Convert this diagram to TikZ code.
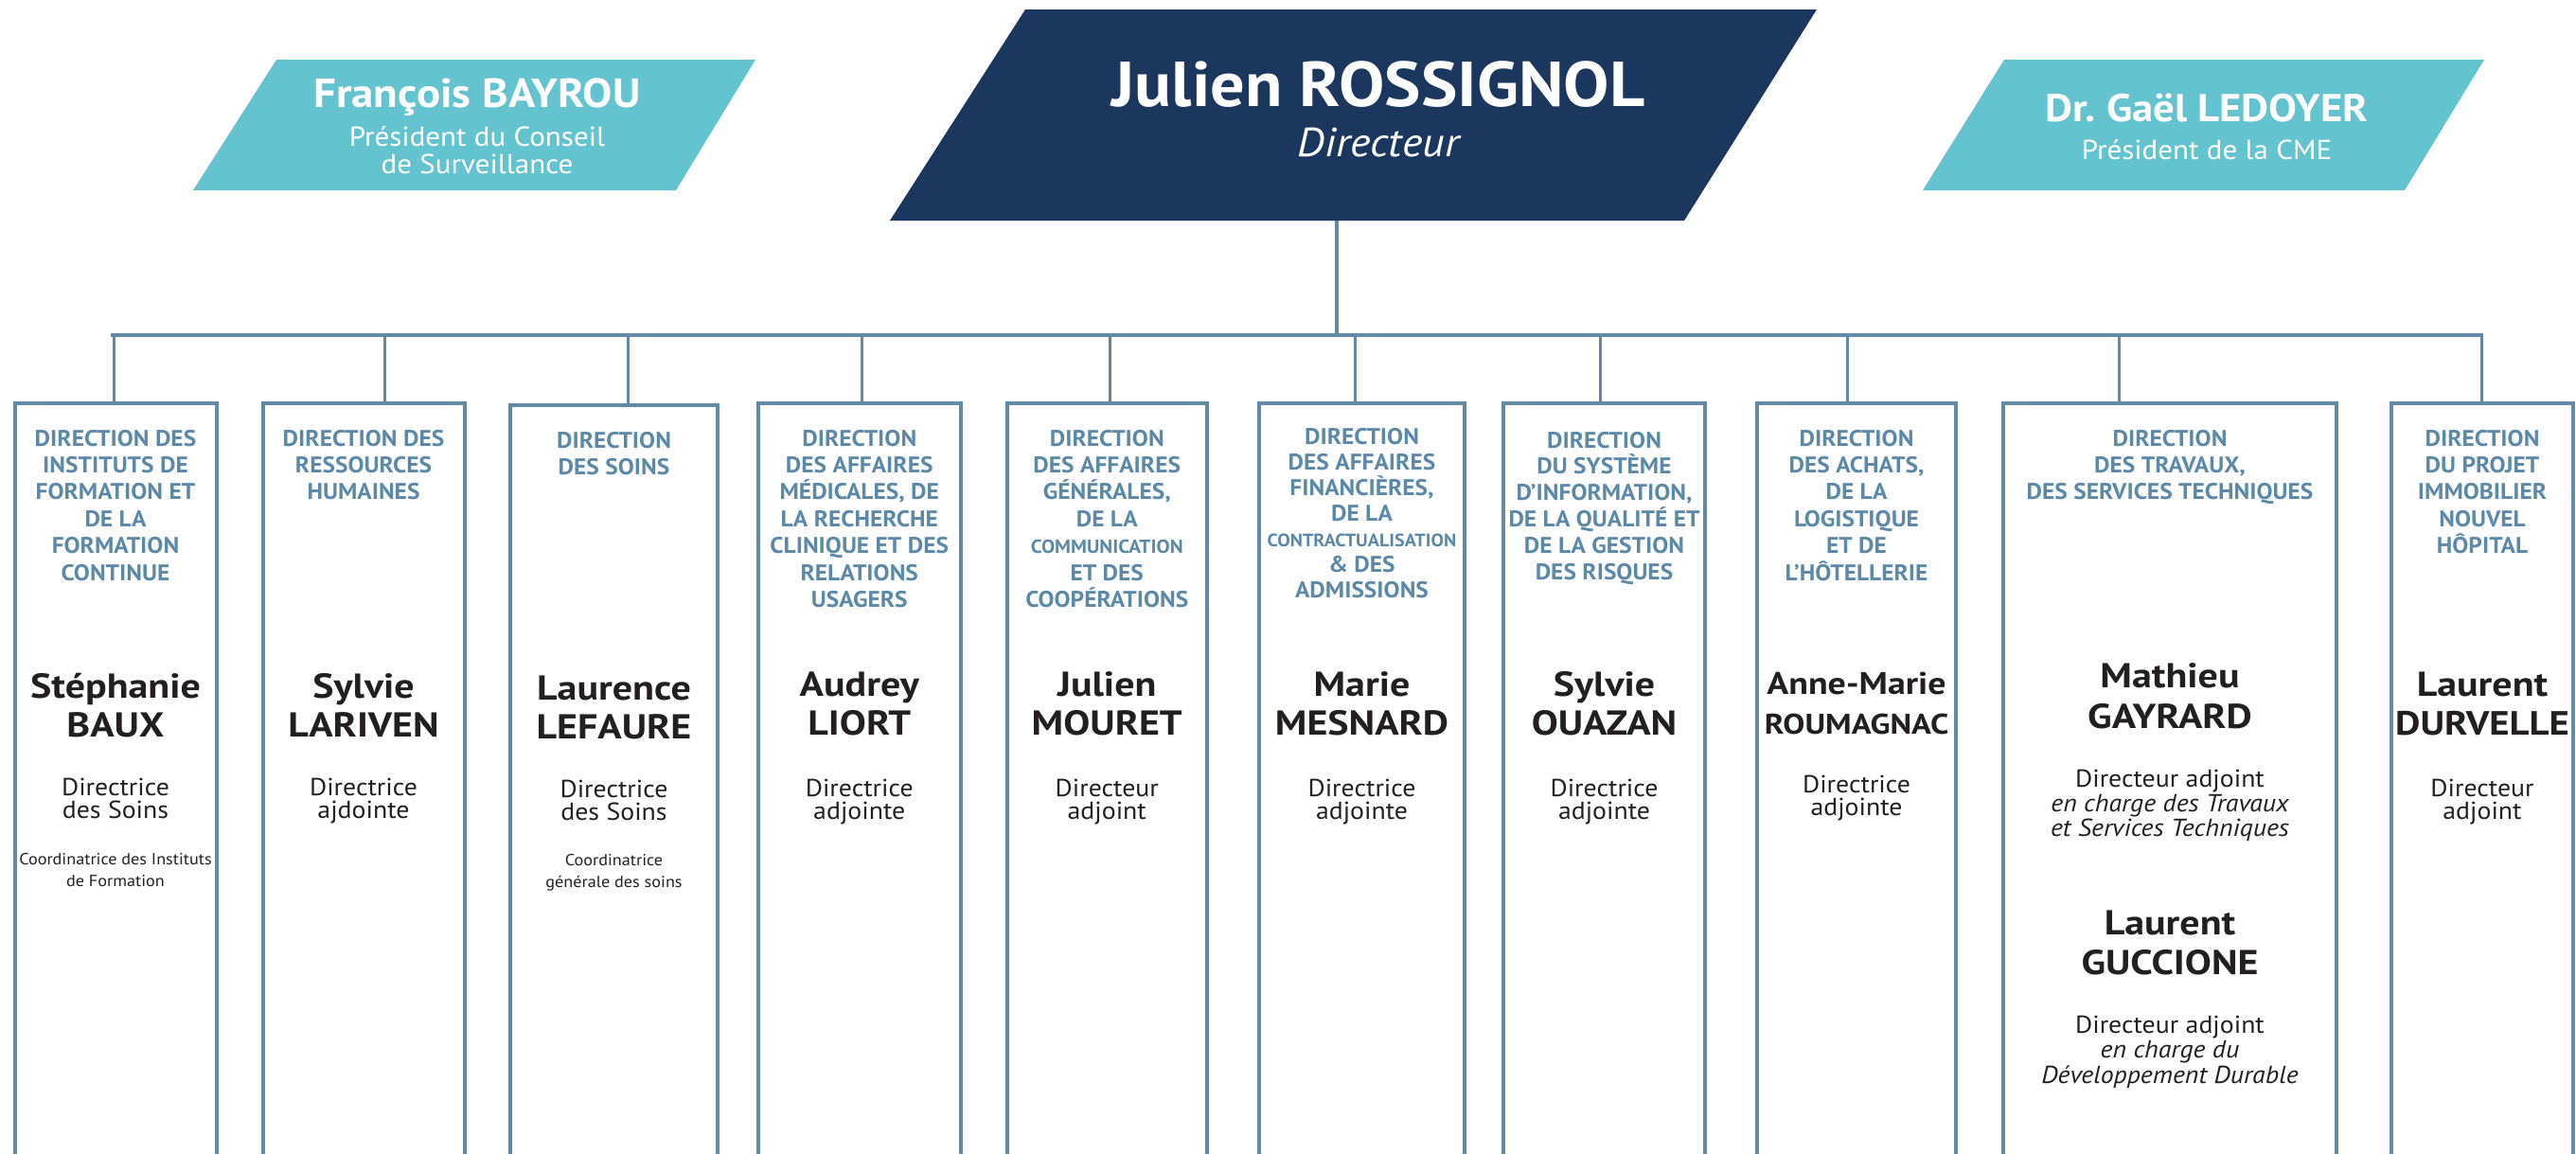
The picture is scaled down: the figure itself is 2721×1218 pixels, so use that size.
\documentclass[tikz,border=0pt]{standalone}
\usepackage{fontspec}
\setmainfont{PT Sans}
\newfontfamily\hdfont{PT Sans}[FakeStretch=1.06]
\newfontfamily\nmfont{PT Sans}[FakeStretch=1.15]
\newfontfamily\rlfont{PT Sans}[FakeStretch=1.07]
\newfontfamily\jrfont{PT Sans}[FakeStretch=1.08]
\newfontfamily\tnfont{PT Sans}[FakeStretch=1.09]
\definecolor{cnavy}{RGB}{27,55,93}
\definecolor{cteal}{RGB}{99,195,207}
\definecolor{csteel}{RGB}{100,137,164}
\definecolor{chead}{RGB}{92,137,168}
\definecolor{ctext}{RGB}{35,31,32}
\newcommand\stk[1]{\vtop{\lineskiplimit=-\maxdimen\lineskip=0pt\halign{\hfil##\hfil\cr#1\crcr}}}
\tikzset{
  orgbox/.style={draw=csteel, line width=4pt, rectangle, inner sep=0pt, outer sep=0pt},
  busline/.style={draw=csteel, line width=4pt},
  dropline/.style={draw=csteel, line width=3pt},
  txt/.style={anchor=base, inner sep=0pt, outer sep=0pt},
  hd/.style={txt, text=chead, font=\hdfont\bfseries\fontsize{24}{28.4}\selectfont},
  nm/.style={txt, text=ctext, font=\nmfont\bfseries\fontsize{36.5}{41.5}\selectfont},
  rl/.style={txt, text=ctext, font=\rlfont\fontsize{26}{24.5}\selectfont},
  nt/.style={txt, text=ctext, font=\rlfont\fontsize{17}{23.8}\selectfont},
}
\begin{document}
\begin{tikzpicture}[x=1pt, y=-1pt]
\useasboundingbox (0,0) rectangle (2721,1218);
\clip (0,0) rectangle (2721,1218);

% top shapes
\fill[cteal] (292,63) -- (798,63) -- (714,201) -- (204,201) -- cycle;
\fill[cnavy] (1083,10) -- (1919,10) -- (1779,233) -- (940,233) -- cycle;
\fill[cteal] (2117,63) -- (2624,63) -- (2540,201) -- (2031,201) -- cycle;
\coordinate (jbot) at (1412,233);

\node[txt, text=white, font=\tnfont\bfseries\fontsize{43}{40}\selectfont] (fbn) at (504,113) {François BAYROU};
\node[txt, text=white, font=\rlfont\fontsize{29}{29}\selectfont] (fbr) at (504,154) {\stk{Président du Conseil\cr de Surveillance}};
\node[txt, text=white, font=\jrfont\bfseries\fontsize{67}{60}\selectfont] (jrn) at (1456,112) {Julien ROSSIGNOL};
\node[txt, text=white, font=\rlfont\itshape\fontsize{43}{40}\selectfont] (jrr) at (1456,165) {Directeur};
\node[txt, text=white, font=\tnfont\bfseries\fontsize{41}{40}\selectfont] (gln) at (2331,128) {Dr.\ Gaël LEDOYER};
\node[txt, text=white, font=\rlfont\fontsize{29}{29}\selectfont] (glr) at (2331,168) {Président de la CME};

% boxes
\node[orgbox, minimum width=213, minimum height=834] (b1) at (122,843) {};
\node[orgbox, minimum width=213, minimum height=834] (b2) at (384,843) {};
\node[orgbox, minimum width=219, minimum height=832] (b3) at (648.5,844) {};
\node[orgbox, minimum width=214.5, minimum height=834] (b4) at (907.75,843) {};
\node[orgbox, minimum width=211.5, minimum height=834] (b5) at (1169.25,843) {};
\node[orgbox, minimum width=217, minimum height=834] (b6) at (1438.5,843) {};
\node[orgbox, minimum width=213, minimum height=834] (b7) at (1694.5,843) {};
\node[orgbox, minimum width=210, minimum height=834] (b8) at (1961,843) {};
\node[orgbox, minimum width=352, minimum height=834] (b9) at (2292,843) {};
\node[orgbox, minimum width=192, minimum height=834] (b10) at (2622,843) {};

% connectors
\coordinate (busL) at (117,354);
\coordinate (busR) at (2623,354);
\draw[busline] (jbot) -- (jbot |- busL);
\draw[busline] (busL) -- (busR);
\foreach \i/\x in {1/120,2/406,3/663,4/910,5/1172,6/1431,7/1690,8/1951,9/2238,10/2621}{
  \coordinate (d\i) at (\x,354);
  \draw[dropline] (d\i) -- (d\i |- b\i.north);
}

% box 1
\node[hd] (h1) at (122,471) {\stk{DIRECTION DES\cr INSTITUTS DE\cr FORMATION ET\cr DE LA\cr FORMATION\cr CONTINUE}};
\node[nm] (n1) at (122,737) {\stk{Stéphanie\cr BAUX}};
\node[rl] (r1) at (122,840) {\stk{Directrice\cr des Soins}};
\node[nt] (t1) at (122,913) {\stk{Coordinatrice des Instituts\cr de Formation}};
% box 2
\node[hd] (h2) at (384,471) {\stk{DIRECTION DES\cr RESSOURCES\cr HUMAINES}};
\node[nm] (n2) at (384,737) {\stk{Sylvie\cr LARIVEN}};
\node[rl] (r2) at (384,840) {\stk{Directrice\cr ajdointe}};
% box 3
\node[hd] (h3) at (648.5,473) {\stk{DIRECTION\cr DES SOINS}};
\node[nm] (n3) at (648.5,739) {\stk{Laurence\cr LEFAURE}};
\node[rl] (r3) at (648.5,842) {\stk{Directrice\cr des Soins}};
\node[nt] (t3) at (648.5,914) {\stk{Coordinatrice\cr générale des soins}};
% box 4
\node[hd] (h4) at (907.75,471) {\stk{DIRECTION\cr DES AFFAIRES\cr MÉDICALES, DE\cr LA RECHERCHE\cr CLINIQUE ET DES\cr RELATIONS\cr USAGERS}};
\node[nm] (n4) at (907.75,735) {\stk{Audrey\cr LIORT}};
\node[rl] (r4) at (907.75,841) {\stk{Directrice\cr adjointe}};
% box 5
\node[hd] (h5) at (1169.25,471) {\stk{DIRECTION\cr DES AFFAIRES\cr GÉNÉRALES,\cr DE LA\cr {\fontsize{20}{28.4}\selectfont COMMUNICATION}\cr ET DES\cr COOPÉRATIONS}};
\node[nm] (n5) at (1169.25,735) {\stk{Julien\cr MOURET}};
\node[rl] (r5) at (1169.25,841) {\stk{Directeur\cr adjoint}};
% box 6
\node[hd, font=\hdfont\bfseries\fontsize{24}{27}\selectfont] (h6) at (1438.5,469) {\stk{DIRECTION\cr DES AFFAIRES\cr FINANCIÈRES,\cr DE LA\cr {\fontsize{19}{27}\selectfont CONTRACTUALISATION}\cr \&~DES\cr ADMISSIONS}};
\node[nm] (n6) at (1438.5,735) {\stk{Marie\cr MESNARD}};
\node[rl] (r6) at (1438.5,841) {\stk{Directrice\cr adjointe}};
% box 7
\node[hd, font=\hdfont\bfseries\fontsize{24}{27.8}\selectfont] (h7) at (1694.5,473) {\stk{DIRECTION\cr DU SYSTÈME\cr D’INFORMATION,\cr DE LA QUALITÉ ET\cr DE LA GESTION\cr DES RISQUES}};
\node[nm] (n7) at (1694.5,735) {\stk{Sylvie\cr OUAZAN}};
\node[rl] (r7) at (1694.5,841) {\stk{Directrice\cr adjointe}};
% box 8
\node[hd] (h8) at (1961,471) {\stk{DIRECTION\cr DES ACHATS,\cr DE LA\cr LOGISTIQUE\cr ET DE\cr L’HÔTELLERIE}};
\node[nm, font=\nmfont\bfseries\fontsize{33}{42}\selectfont] (n8) at (1961,733) {\stk{Anne-Marie\cr {\fontsize{30}{42}\selectfont ROUMAGNAC}}};
\node[rl] (r8) at (1961,837) {\stk{Directrice\cr adjointe}};
% box 9
\node[hd] (h9) at (2292,471) {\stk{DIRECTION\cr DES TRAVAUX,\cr DES SERVICES TECHNIQUES}};
\node[nm, font=\nmfont\bfseries\fontsize{36.5}{43}\selectfont] (n9) at (2292,726) {\stk{Mathieu\cr GAYRARD}};
\node[rl, font=\rlfont\fontsize{26}{26.2}\selectfont] (r9) at (2292,831) {\stk{Directeur adjoint\cr \itshape en charge des Travaux\cr \itshape et Services Techniques}};
\node[nm, font=\nmfont\bfseries\fontsize{36.5}{42.5}\selectfont] (n9b) at (2292,987) {\stk{Laurent\cr GUCCIONE}};
\node[rl, font=\rlfont\fontsize{26}{26.6}\selectfont] (r9b) at (2292,1091) {\stk{Directeur adjoint\cr \itshape en charge du\cr \itshape Développement Durable}};
% box 10
\node[hd] (h10) at (2622,471) {\stk{DIRECTION\cr DU PROJET\cr IMMOBILIER\cr NOUVEL\cr HÔPITAL}};
\node[nm] (n10) at (2622,735) {\stk{Laurent\cr {\fontsize{35.5}{41.5}\selectfont DURVELLE}}};
\node[rl] (r10) at (2622,841) {\stk{Directeur\cr adjoint}};
\end{tikzpicture}
\end{document}
